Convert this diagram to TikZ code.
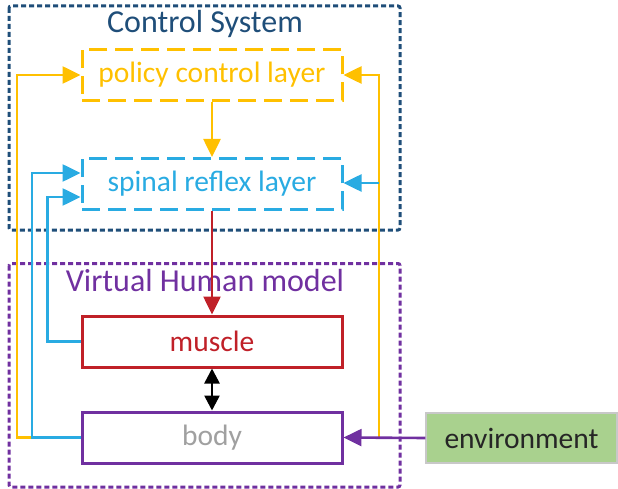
\documentclass[tikz,border=0pt]{standalone}
\usepackage{fontspec}
\setmainfont{Carlito}
\usetikzlibrary{arrows.meta}
\definecolor{ctrlblue}{RGB}{31,78,121}
\definecolor{yel}{RGB}{255,192,0}
\definecolor{lblue}{RGB}{41,171,226}
\definecolor{mred}{RGB}{192,32,40}
\definecolor{purp}{RGB}{112,48,160}
\definecolor{gtext}{RGB}{160,160,160}
\definecolor{envgreen}{RGB}{169,209,142}
\definecolor{envborder}{RGB}{200,200,200}
\tikzset{
  boxfont/.style={font=\fontsize{29.5}{31}\selectfont},
  titlefont/.style={font=\fontsize{32}{34}\selectfont},
  layerbox/.style={draw, line width=3pt, dash pattern=on 18pt off 8pt, minimum width=260pt, minimum height=51pt, inner sep=0pt, boxfont},
  solidbox/.style={draw, line width=3pt, minimum width=260pt, minimum height=51pt, inner sep=0pt, boxfont},
  container/.style={line width=3pt, dash pattern=on 5pt off 3pt, rounded corners=2pt},
  conn/.style={line width=2.6pt, -{Triangle[length=18pt,width=17pt]}},
  plain/.style={line width=2.6pt}
}
\begin{document}
\begin{tikzpicture}[x=1pt,y=-1pt]
\useasboundingbox (0,0) rectangle (618,489);
% containers
\draw[container, ctrlblue] (9,6) rectangle (400,230);
\draw[container, purp] (9,263.5) rectangle (400,487);
\node[titlefont, text=ctrlblue] (cstitle) at (205,23.5) {Control System};
\node[titlefont, text=purp] (vhtitle) at (205,281) {Virtual Human model};
% boxes
\node[layerbox, yel, text=yel] (policy) at (212,75) {policy control layer};
\node[layerbox, lblue, text=lblue] (spinal) at (212,184) {spinal reflex layer};
\node[solidbox, mred, text=mred, fill=white] (muscle) at (212,341.5) {muscle};
\node[solidbox, purp, text=gtext, fill=white] (body) at (212,437.5) {body};
\node[draw=envborder, line width=1.2pt, fill=envgreen, minimum width=191pt, minimum height=50pt, inner sep=0pt, boxfont, text=black!85] (env) at (521.5,438) {environment};
% rail coordinates
\coordinate (yl) at (17,0);
\coordinate (bo) at (32,0);
\coordinate (bi) at (47.5,0);
\coordinate (yr) at (379,0);
% connectors
\draw[conn, yel] (policy.south) -- (spinal.north);
\draw[conn, mred] (spinal.south) -- (muscle.north);
\draw[line width=2.6pt, black, {Triangle[length=15pt,width=15pt]}-{Triangle[length=15pt,width=15pt]}] (muscle.south) -- (body.north);
\draw[conn, yel] (body.west) -- (body.west -| yl) |- (policy.west);
\draw[conn, lblue] (body.west) -- (body.west -| bo) |- ([yshift=11pt]spinal.west);
\draw[conn, lblue] (muscle.west) -- (muscle.west -| bi) |- ([yshift=-13pt]spinal.west);
\draw[conn, yel] (body.east -| yr) |- (policy.east);
\draw[conn, lblue] ([yshift=1pt]spinal.east -| yr) -- ([yshift=1pt]spinal.east);
\draw[conn, purp] (env.west) -- (body.east);
\end{tikzpicture}
\end{document}
